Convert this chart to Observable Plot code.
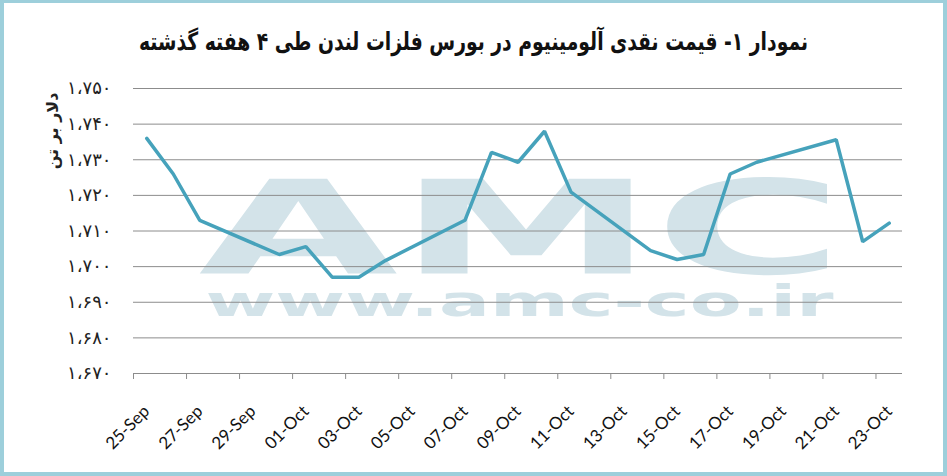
<!DOCTYPE html>
<html><head><meta charset="utf-8">
<script src="https://cdn.jsdelivr.net/npm/d3@7"></script>
<script src="https://cdn.jsdelivr.net/npm/@observablehq/plot@0.6"></script>
<style>
html,body{margin:0;padding:0;background:#fff;}
#wrap{position:relative;width:947px;height:476px;overflow:hidden;background:#fff;}
#title{position:absolute;top:25px;left:0;width:947px;text-align:center;font-family:"DejaVu Sans",sans-serif;font-weight:bold;font-size:25px;line-height:34px;color:#111;direction:rtl;transform:scaleX(0.75);transform-origin:473.5px 50%;white-space:nowrap;}
#chart{position:absolute;left:0;top:70px;}
#border{position:absolute;left:0;top:0;width:947px;height:476px;box-sizing:border-box;border:4px solid #9dcfdb;border-top-width:3px;pointer-events:none;}
</style></head>
<body><div id="wrap"><div id="title"></div><div id="chart"></div><div id="border"></div></div>
<script>
const titleText = "نمودار ۱- قیمت نقدی آلومینیوم در بورس فلزات لندن طی ۴ هفته گذشته";
const yAxisTitle = "دلار بر تن";
const dates = ["2019-09-25","2019-09-26","2019-09-27","2019-09-30","2019-10-01","2019-10-02","2019-10-03","2019-10-04",
  "2019-10-07","2019-10-08","2019-10-09","2019-10-10","2019-10-11","2019-10-14","2019-10-15","2019-10-16",
  "2019-10-17","2019-10-18","2019-10-21","2019-10-22","2019-10-23"];
const prices = [1736, 1726, 1713, 1703.4, 1705.6, 1697, 1697, 1701.7,
  1713, 1732.1, 1729.3, 1738, 1720.9, 1704.5, 1702, 1703.4,
  1726, 1729.3, 1735.6, 1707, 1712.2];
const xTickDates = ["2019-09-25","2019-09-27","2019-09-29","2019-10-01","2019-10-03","2019-10-05","2019-10-07","2019-10-09",
  "2019-10-11","2019-10-13","2019-10-15","2019-10-17","2019-10-19","2019-10-21","2019-10-23"];
const xTickLabels = ["25-Sep","27-Sep","29-Sep","01-Oct","03-Oct","05-Oct","07-Oct","09-Oct",
  "11-Oct","13-Oct","15-Oct","17-Oct","19-Oct","21-Oct","23-Oct"];
const yTicks = [1670, 1680, 1690, 1700, 1710, 1720, 1730, 1740, 1750];
const yTickLabels = ["۱،۶۷۰","۱،۶۸۰","۱،۶۹۰","۱،۷۰۰","۱،۷۱۰","۱،۷۲۰","۱،۷۳۰","۱،۷۴۰","۱،۷۵۰"];
const watermarkLogo = "AMC";
const watermarkUrl = "www.amc-co.ir";

document.getElementById("title").textContent = titleText;

const day = 864e5;
const parse = s => new Date(s + "T00:00:00Z");
const data = dates.map((d, i) => ({date: parse(d), price: prices[i]}));
const labelTicks = xTickDates.map(parse);
const boundaryTicks = labelTicks.map(d => new Date(+d - day / 2));
const xDomain = [new Date(+labelTicks[0] - day / 2), new Date(+labelTicks[labelTicks.length - 1] + day / 2)];

const wmColor = "#d3e3e9";
const chart = Plot.plot({
  width: 947,
  height: 402,
  marginLeft: 133,
  marginRight: 45,
  marginTop: 18,
  marginBottom: 99,
  style: {fontFamily: "Lato, sans-serif", background: "transparent"},
  x: {type: "utc", domain: xDomain},
  y: {domain: [1670, 1750]},
  marks: [
    Plot.text([watermarkLogo], {frameAnchor: "middle", lineAnchor: "bottom", dx: 3, dy: 42.5, fontSize: 130, fontWeight: "bold", fontFamily: "DejaVu Sans", fill: wmColor}),
    Plot.text([watermarkUrl], {frameAnchor: "middle", lineAnchor: "bottom", dx: 1.5, dy: 84.5, fontSize: 42, fontWeight: "bold", fontFamily: "DejaVu Sans", fill: wmColor}),
    Plot.gridY(yTicks.slice(1), {stroke: "#8c8c8c", strokeOpacity: 1}),
    Plot.ruleY([1670], {stroke: "#8c8c8c"}),
    Plot.axisY({ticks: yTicks, tickFormat: (d, i) => yTickLabels[i], tickSize: 0, tickPadding: 22, fontSize: 18, fontFamily: "DejaVu Sans", fill: "#222", label: null}),
    Plot.axisX({ticks: boundaryTicks, tickFormat: () => "", tickSize: 6, stroke: "#8c8c8c", label: null}),
    Plot.axisX({ticks: labelTicks, tickFormat: (d, i) => xTickLabels[i], tickSize: 0, tickPadding: 21, tickRotate: -45, fontSize: 17, fill: "#111", dy: 14, label: null}),
    Plot.text([yAxisTitle], {frameAnchor: "top-left", rotate: -90, textAnchor: "end", dx: -87, dy: 4, fontSize: 16, fontWeight: "bold", fontFamily: "DejaVu Sans", fill: "#222"}),
    Plot.line(data, {x: "date", y: "price", stroke: "#46a2bb", strokeWidth: 3.5, strokeLinejoin: "miter", strokeLinecap: "round"})
  ]
});
const svg = d3.select(chart);
svg.selectAll("text").each(function () {
  const t = this.textContent;
  if (t === watermarkLogo) d3.select(this).attr("textLength", 645).attr("lengthAdjust", "spacingAndGlyphs");
  if (t === watermarkUrl) d3.select(this).attr("textLength", 628).attr("lengthAdjust", "spacingAndGlyphs");
});
document.getElementById("chart").appendChild(chart);
</script>
</body></html>
